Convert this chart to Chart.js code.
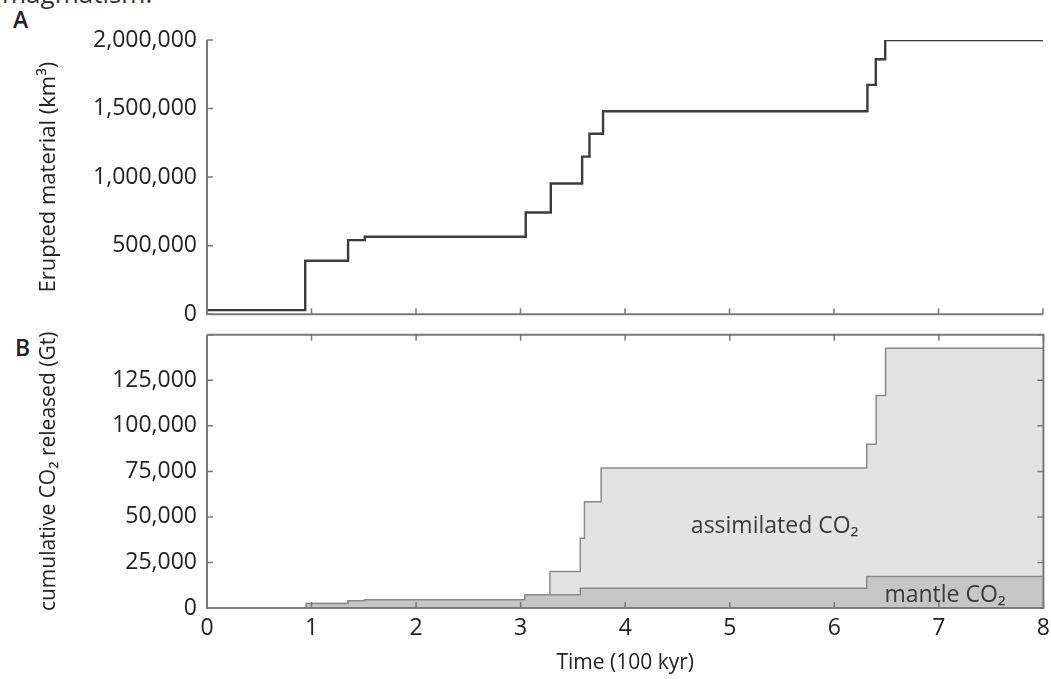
<!DOCTYPE html>
<html>
<head>
<meta charset="utf-8">
<script src="https://cdn.jsdelivr.net/npm/chart.js@4"></script>
<style>
  body { margin: 0; background: #fff; width: 1051px; height: 679px; overflow: hidden; position: relative; font-family: "Open Sans", sans-serif; }
  .wrap { position: absolute; left: 0; }
  #wrapA { top: 0; width: 1051px; height: 338px; }
  #wrapB { top: 311px; width: 1057px; height: 368px; }
  .lbl { position: absolute; color: #222; font-family: "Open Sans", sans-serif; }
  #top { left: 2px; top: -25px; font-size: 26px; color: #333; }
  #la { left: 13px; top: 3px; font-size: 23px; font-weight: 600; }
  #lb { left: 15px; top: 331px; font-size: 23px; font-weight: 600; }
</style>
</head>
<body>
<div class="lbl" id="top">magmatism.</div>
<div class="lbl" id="la">A</div>
<div class="lbl" id="lb">B</div>
<div class="wrap" id="wrapA"><canvas id="chartA"></canvas></div>
<div class="wrap" id="wrapB"><canvas id="chartB"></canvas></div>
<script>
// panel A: erupted material, step changes (time in 100 kyr)
var eruptTime = [0, 0.94, 1.35, 1.51, 3.05, 3.29, 3.59, 3.66, 3.79, 6.32, 6.40, 6.49, 8];
var eruptVol = [30000, 390000, 540000, 565000, 742000, 953000, 1149000, 1316000, 1480000, 1673000, 1860000, 2000000, 2000000];

// panel B: cumulative CO2, stacked (mantle + assimilated)
var co2Time = [0, 0.95, 1.35, 1.51, 3.04, 3.28, 3.57, 3.61, 3.77, 6.31, 6.40, 6.49, 8];
var mantleCO2 = [0, 2500, 4000, 4500, 7300, 7300, 10900, 10900, 10900, 17300, 17300, 17300, 17300];
var assimCO2 = [0, 0, 0, 0, 0, 12700, 27400, 47400, 66000, 72600, 99400, 125300, 125300];

var xTicks = [0, 1, 2, 3, 4, 5, 6, 7, 8];
var yTicksA = [0, 500000, 1000000, 1500000, 2000000];
var yTicksB = [0, 25000, 50000, 75000, 100000, 125000, 150000];

var FONT = "'Open Sans', sans-serif";
var AXIS = '#7a7a7a';

function pts(xs, ys) {
    return xs.map(function (x, i) { return {x: x, y: ys[i]}; });
}
function fmt(v) {
    return v.toLocaleString('en-US');
}

// inward tick marks + frame
function frame(box) {
    return {
        id: 'frame',
        afterDatasetsDraw: function (chart) {
            var c = chart.ctx, a = chart.chartArea;
            var sx = chart.scales.x, sy = chart.scales.y;
            c.save();
            c.strokeStyle = AXIS;
            c.lineWidth = 2;
            c.beginPath();
            c.moveTo(a.left, a.top);
            c.lineTo(a.left, a.bottom);
            c.lineTo(a.right, a.bottom);
            if (box) {
                c.lineTo(a.right, a.top);
                c.lineTo(a.left, a.top);
            }
            c.stroke();
            c.lineWidth = 1.5;
            c.beginPath();
            xTicks.forEach(function (t) {
                var px = sx.getPixelForValue(t);
                c.moveTo(px, a.bottom); c.lineTo(px, a.bottom - 6);
                if (box) { c.moveTo(px, a.top); c.lineTo(px, a.top + 6); }
            });
            sy.ticks.forEach(function (t) {
                var py = sy.getPixelForValue(t.value);
                c.moveTo(a.left, py); c.lineTo(a.left + 6, py);
                if (box) { c.moveTo(a.right, py); c.lineTo(a.right - 6, py); }
            });
            c.stroke();
            c.restore();
        }
    };
}

var areaLabels = {
    id: 'areaLabels',
    afterDatasetsDraw: function (chart) {
        var c = chart.ctx, sx = chart.scales.x, sy = chart.scales.y;
        c.save();
        c.fillStyle = '#3a3a3a';
        c.font = '23px ' + FONT;
        c.textAlign = 'center';
        c.textBaseline = 'middle';
        c.fillText('assimilated CO\u2082', sx.getPixelForValue(5.43), sy.getPixelForValue(44500));
        c.fillText('mantle CO\u2082', sx.getPixelForValue(7.06), sy.getPixelForValue(6800));
        c.restore();
    }
};

function xScale(showLabels, title) {
    return {
        type: 'linear', min: 0, max: 8,
        afterBuildTicks: function (s) { s.ticks = xTicks.map(function (v) { return {value: v}; }); },
        afterFit: function (s) { s.height = showLabels ? 71 : 0; },
        grid: {display: false, drawTicks: false},
        border: {display: false},
        ticks: {display: showLabels, padding: 7, color: '#222', font: {family: FONT, size: 23}},
        title: title ? {display: true, text: title, color: '#222', font: {family: FONT, size: 21}, padding: {top: 0, bottom: 3}} : {display: false}
    };
}

function yScale(max, ticks, title, hideTop, titleSize) {
    return {
        type: 'linear', min: 0, max: max,
        afterBuildTicks: function (s) { s.ticks = ticks.map(function (v) { return {value: v}; }); },
        afterFit: function (s) { s.width = 207; },
        grid: {display: false, drawTicks: false},
        border: {display: false},
        ticks: {
            padding: 10, color: '#222', font: {family: FONT, size: 23},
            callback: function (v) { return (hideTop && v === max) ? '' : fmt(v); }
        },
        title: {display: true, text: title, color: '#222', font: {family: FONT, size: titleSize}, padding: {top: 49 - titleSize * 0.6, bottom: 0}}
    };
}

new Chart(document.getElementById('chartA'), {
    type: 'line',
    data: {
        datasets: [{
            label: 'Erupted material',
            data: pts(eruptTime, eruptVol),
            stepped: true,
            borderColor: '#3c3c3c',
            borderWidth: 2.4,
            pointRadius: 0,
            fill: false
        }]
    },
    options: {
        responsive: true, maintainAspectRatio: false, animation: false,
        layout: {padding: {top: 40, right: 8, bottom: 15, left: 0}},
        plugins: {legend: {display: false}, tooltip: {enabled: false}},
        scales: {
            x: xScale(false, null),
            y: yScale(2000000, yTicksA, 'Erupted material (km\u00b3)', false, 22)
        }
    },
    plugins: [frame(false)]
});

new Chart(document.getElementById('chartB'), {
    type: 'line',
    data: {
        datasets: [{
            label: 'mantle CO2',
            data: pts(co2Time, mantleCO2),
            stepped: true,
            borderColor: '#8a8a8a',
            backgroundColor: '#c6c6c6',
            borderWidth: 1.5,
            pointRadius: 0,
            fill: 'origin'
        }, {
            label: 'assimilated CO2',
            data: pts(co2Time, assimCO2),
            stepped: true,
            borderColor: '#8a8a8a',
            backgroundColor: '#e3e3e3',
            borderWidth: 1.5,
            pointRadius: 0,
            fill: '-1'
        }]
    },
    options: {
        responsive: true, maintainAspectRatio: false, animation: false,
        layout: {padding: {top: 13, right: 0, bottom: 0, left: 0}},
        plugins: {legend: {display: false}, tooltip: {enabled: false}},
        scales: {
            x: xScale(true, 'Time (100 kyr)'),
            y: Object.assign(yScale(150000, yTicksB, 'cumulative CO\u2082 released (Gt)', true, 21), {stacked: true})
        }
    },
    plugins: [areaLabels, frame(true)]
});
</script>
</body>
</html>
